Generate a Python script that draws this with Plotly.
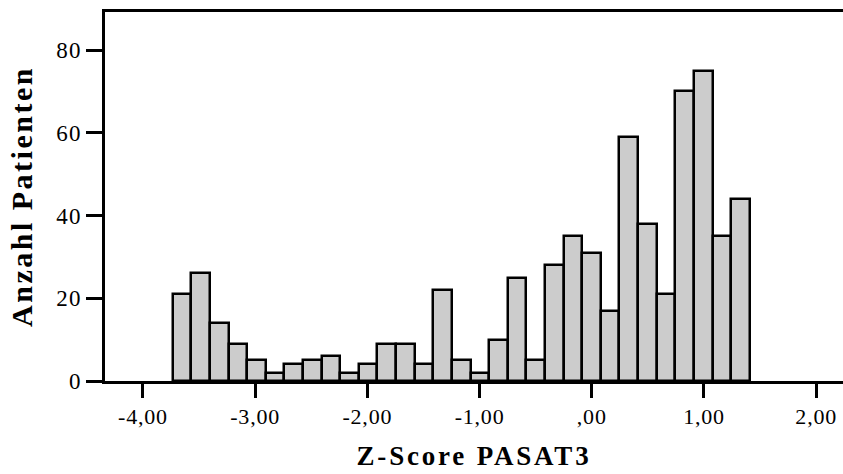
import plotly.graph_objects as go

# Histogram of PASAT3 z-scores: counts per bin
counts = [21, 26, 14, 9, 5, 2, 4, 5, 6, 2, 4, 9, 9, 4, 22, 5, 2, 10, 25, 5,
          28, 35, 31, 17, 59, 38, 21, 70, 75, 35, 44]
bin_start = -3.735
bin_width = 0.1659

x_tick_vals = [-4, -3, -2, -1, 0, 1, 2]
x_tick_text = ["-4,00", "-3,00", "-2,00", "-1,00", ",00", "1,00", "2,00"]
y_tick_vals = [0, 20, 40, 60, 80]
y_tick_text = ["0", "20", "40", "60", "80"]

x_title = "Z-Score PASAT3"
y_title = "Anzahl Patienten"

centers = [bin_start + bin_width * (i + 0.5) for i in range(len(counts))]


def spaced(s, px):
    return f'<span style="letter-spacing:{px}px">{s}</span>'


fig = go.Figure(
    go.Bar(
        x=centers,
        y=counts,
        width=bin_width,
        marker=dict(color="#cccccc", line=dict(color="black", width=2.5)),
    )
)

font = "Liberation Serif"

fig.update_layout(
    width=843,
    height=474,
    margin=dict(l=105, r=0, t=12, b=93),
    plot_bgcolor="white",
    paper_bgcolor="white",
    showlegend=False,
    bargap=0,
    font=dict(family=font, color="black"),
)

fig.update_xaxes(
    range=[-4.338, 2.239],
    tickvals=x_tick_vals,
    ticktext=[spaced(t, 0.8) for t in x_tick_text],
    ticks="outside",
    ticklen=14,
    tickwidth=3,
    tickcolor="black",
    tickfont=dict(size=22, family=font),
    showline=True,
    linecolor="black",
    linewidth=2.5,
    mirror=True,
    showgrid=False,
    zeroline=False,
    title=dict(text="<b>" + spaced(x_title, 2.8) + "</b>",
               font=dict(size=27, family=font), standoff=18),
)

fig.update_yaxes(
    range=[0, 89.2],
    tickvals=y_tick_vals,
    ticktext=[spaced(t, 1.2) for t in y_tick_text],
    ticks="outside",
    ticklen=16,
    tickwidth=3,
    tickcolor="black",
    tickfont=dict(size=23, family=font),
    showline=True,
    linecolor="black",
    linewidth=2.5,
    mirror=False,
    showgrid=False,
    zeroline=False,
    title=dict(text="<b>" + spaced(y_title, 2.5) + "</b>",
               font=dict(size=30, family=font), standoff=15),
)

fig.write_html("out.html")
